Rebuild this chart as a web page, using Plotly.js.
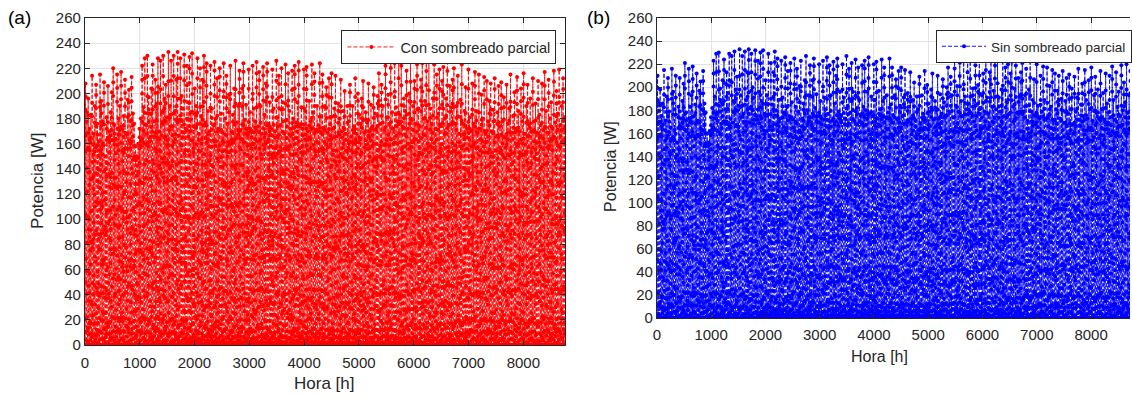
<!DOCTYPE html>
<html>
<head>
<meta charset="utf-8">
<script src="https://cdn.plot.ly/plotly-3.0.1.min.js"></script>
<style>
html,body{margin:0;padding:0;background:#fff;}
#chart{width:1132px;height:396px;}
</style>
</head>
<body>
<div id="chart"></div>
<script>
// Estimated daily peak power [W] (a) "Con sombreado parcial"
const peakConSombreado = [
208,185,196,172,183,214,168,190,207,176,162,215,194,178,209,150,181,206,170,185,
201,220,175,164,215,180,190,217,172,182,211,168,195,203,178,213,184,176,158,150,
160,172,180,222,189,228,175,230,197,184,204,223,178,211,192,228,170,226,185,230,
196,207,181,233,190,226,174,230,186,211,233,179,228,198,188,231,172,222,193,229,
185,232,174,204,190,228,168,220,182,211,230,177,224,186,170,222,188,175,225,180,
212,172,220,184,169,224,180,214,176,199,222,170,183,204,226,177,190,218,171,204,
224,179,191,172,219,185,170,222,188,178,225,174,217,190,168,221,183,208,224,176,
193,172,219,188,170,226,181,214,175,220,193,168,223,179,216,186,172,218,180,222,
177,193,225,174,189,172,219,186,221,170,194,178,223,185,216,171,190,175,224,182,
215,173,190,205,169,212,181,216,172,188,214,166,192,180,211,170,186,202,168,190,
178,207,166,190,174,212,168,200,183,176,196,210,169,185,177,208,170,191,174,205,
184,172,198,216,176,207,190,171,222,181,199,176,227,185,172,224,189,178,228,183,
222,174,196,186,218,172,200,225,179,190,210,176,223,188,174,211,224,180,194,227,
178,225,188,176,196,223,172,215,184,219,174,210,221,180,196,227,175,206,189,211,
220,176,190,214,168,195,223,176,186,205,172,219,181,170,208,176,217,186,169,215,
172,199,180,213,168,210,178,194,208,170,187,212,166,185,206,174,209,178,197,165,
207,176,188,215,169,182,201,172,213,186,170,204,178,216,168,190,207,175,196,170,
212,178,192,169,210,183,175,208,171,217,186,169,211,180,193,172,218,177,202,184,
219,175,190,212,181
];
// Estimated daily peak power [W] (b) "Sin sombreado parcial"
const peakSinSombreado = [
210,187,198,175,186,215,171,192,208,179,165,216,196,181,210,152,183,208,173,188,
203,221,178,167,216,183,193,218,175,185,212,171,197,205,181,214,186,178,160,152,
162,174,182,223,192,229,178,230,199,187,206,224,181,213,195,229,173,227,188,231,
198,209,184,233,193,227,177,231,189,213,233,182,229,200,191,232,175,223,196,230,
188,232,177,206,193,229,171,221,185,213,231,180,225,189,173,223,191,178,226,183,
214,175,221,187,172,225,183,216,179,201,223,173,186,206,227,180,193,219,174,206,
225,182,194,175,220,188,173,223,191,181,226,177,219,193,171,222,186,210,225,179,
196,175,220,191,173,227,184,216,178,221,196,171,224,182,217,189,175,219,183,223,
180,196,226,177,192,175,220,189,222,173,197,181,224,188,217,174,193,178,225,185,
217,176,193,207,172,214,184,217,175,191,215,169,195,183,213,173,189,204,171,192,
181,209,169,193,177,214,171,202,186,179,198,212,172,188,180,210,173,194,177,207,
187,175,200,217,179,209,193,174,223,184,201,179,228,188,175,225,192,181,229,186,
223,177,199,189,219,175,202,226,182,193,212,179,224,191,177,213,225,183,197,228,
181,226,191,179,198,224,175,217,187,220,177,212,222,183,199,228,178,208,192,213,
221,179,193,216,171,198,224,179,189,207,175,220,184,173,210,179,218,189,172,217,
175,201,183,215,171,212,181,197,210,173,190,214,169,188,208,177,211,181,199,168,
209,179,191,216,172,185,203,175,215,189,173,206,181,217,171,193,209,178,198,173,
214,181,195,172,212,186,178,210,174,218,189,172,213,183,196,175,219,180,204,187,
220,178,193,214,184
];
// Typical hourly profiles (fraction of daily peak, hours 0..23) by day type
const profileClear       = [0,0,0,0,0,0,0.02,0.12,0.32,0.55,0.76,0.91,1.00,0.96,0.84,0.66,0.44,0.22,0.06,0,0,0,0,0];
const profileSummer      = [0,0,0,0,0,0.01,0.06,0.20,0.40,0.60,0.78,0.92,1.00,0.97,0.88,0.72,0.52,0.32,0.14,0.03,0,0,0,0];
const profileMorningCloud= [0,0,0,0,0,0,0.01,0.07,0.18,0.30,0.52,0.80,1.00,0.93,0.86,0.70,0.47,0.24,0.07,0,0,0,0,0];
const profileAfterCloud  = [0,0,0,0,0,0,0.03,0.15,0.38,0.62,0.85,1.00,0.90,0.68,0.50,0.36,0.23,0.11,0.03,0,0,0,0,0];
const profileIntermittent= [0,0,0,0,0,0,0.02,0.10,0.41,0.35,0.88,0.58,1.00,0.72,0.90,0.45,0.50,0.19,0.05,0,0,0,0,0];
const profileHazy        = [0,0,0,0,0,0,0.01,0.09,0.25,0.46,0.63,0.81,0.93,1.00,0.77,0.58,0.37,0.17,0.04,0,0,0,0,0];
const profileWinter      = [0,0,0,0,0,0,0,0.05,0.24,0.50,0.74,0.90,1.00,0.95,0.80,0.58,0.33,0.10,0,0,0,0,0,0];
const profiles = [profileClear, profileSummer, profileMorningCloud, profileAfterCloud, profileIntermittent, profileHazy, profileWinter];
// Estimated day type (index into profiles) for each day of the year
const dayType = [
6,0,2,6,4,3,6,5,0,6,2,4,6,3,0,5,6,2,6,4,
3,6,0,5,6,2,4,6,3,0,6,5,2,6,4,0,6,3,5,6,
2,0,4,6,3,5,0,2,6,4,3,0,5,6,2,4,0,3,6,5,
0,2,4,3,6,5,0,2,4,3,0,5,2,6,4,0,3,5,2,0,
1,2,4,3,0,5,1,2,4,3,0,5,1,4,2,3,0,5,1,4,
2,3,1,5,0,4,2,1,3,5,4,0,1,2,3,5,4,1,0,2,
1,3,4,1,5,2,1,4,3,1,0,5,1,2,4,1,3,5,1,2,
4,1,3,5,1,2,0,1,4,3,1,5,2,1,4,3,1,5,0,1,
2,4,1,3,5,1,2,4,1,0,3,1,5,2,1,4,3,1,5,2,
1,4,3,1,2,5,1,0,4,1,3,2,1,5,4,1,2,3,1,5,
4,1,2,3,1,5,0,1,4,2,1,3,5,1,4,2,1,3,0,1,
5,2,1,4,3,1,5,2,1,4,0,3,1,5,2,4,1,3,5,1,
2,4,1,3,0,5,1,2,4,3,1,5,0,2,4,1,3,5,2,0,
4,3,0,5,2,4,3,0,5,2,4,0,3,5,2,0,4,3,5,0,
2,4,6,3,0,5,2,6,4,3,0,5,6,2,4,3,6,0,5,2,
6,4,3,6,0,5,2,6,4,3,6,0,5,6,2,4,6,3,0,6,
5,2,6,4,3,6,0,5,6,2,4,6,3,0,6,5,2,6,4,3,
6,0,5,6,2,4,6,3,0,6,5,2,6,4,3,6,0,5,6,2,
4,6,3,0,6
];
const xTicks = [0,1000,2000,3000,4000,5000,6000,7000,8000];
const yTicks = [0,20,40,60,80,100,120,140,160,180,200,220,240,260];
const nameA = "Con sombreado parcial";
const nameB = "Sin sombreado parcial";

function hourly(peaks){
  const x=[], y=[];
  for(let d=0; d<peaks.length; d++){
    const prof = profiles[dayType[d]];
    for(let h=0; h<24; h++){
      x.push(d*24+h+1);
      y.push(peaks[d]*prof[h]);
    }
  }
  return {x,y};
}
const A = hourly(peakConSombreado);
const B = hourly(peakSinSombreado);

const W = 1132, H = 396;
const px = v => v / W;
const py = v => 1 - v / H;
const FONT = "Liberation Sans, Arial, sans-serif";
const INK = "#262626";

const traces = [
  {x:A.x, y:A.y, type:"scatter", mode:"lines+markers", name:nameA,
   line:{color:"#ff0000", width:0.9, dash:"4px,2px"}, marker:{color:"#ff0000", size:4},
   xaxis:"x", yaxis:"y", legend:"legend"},
  {x:B.x, y:B.y, type:"scatter", mode:"lines+markers", name:nameB,
   line:{color:"#0000ff", width:0.9, dash:"4px,2px"}, marker:{color:"#0000ff", size:4},
   xaxis:"x2", yaxis:"y2", legend:"legend2"}
];

const axCommon = {
  showline:true, linecolor:INK, linewidth:1, ticks:"inside", ticklen:5, tickcolor:INK,
  showgrid:true, gridcolor:"#e3e3e3", gridwidth:1, zeroline:false,
  tickfont:{family:FONT, size:15, color:INK}, fixedrange:true
};

const layout = {
  width:W, height:H,
  margin:{l:0,r:0,t:0,b:0},
  paper_bgcolor:"#ffffff", plot_bgcolor:"#ffffff",
  showlegend:true,
  xaxis: Object.assign({}, axCommon, {domain:[px(85), px(566)], range:[0,8760], tickvals:xTicks, anchor:"y", mirror:"ticks", ticklabelstandoff:4}),
  yaxis: Object.assign({}, axCommon, {domain:[py(345), py(18)], range:[0,260], tickvals:yTicks, anchor:"x", mirror:"ticks"}),
  xaxis2: Object.assign({}, axCommon, {domain:[px(658), 1], range:[0,8717], tickvals:xTicks, anchor:"y2", mirror:"ticks", ticklabelstandoff:3}),
  yaxis2: Object.assign({}, axCommon, {domain:[py(318), py(18)], range:[0,260], tickvals:yTicks, anchor:"x2", mirror:false}),
  legend:{x:px(342), y:py(30), xanchor:"left", yanchor:"top", bgcolor:"#ffffff", bordercolor:INK, borderwidth:1,
          font:{family:FONT, size:14.5, color:INK}, tracegroupgap:0, itemwidth:48},
  legend2:{x:px(938), y:py(30), xanchor:"left", yanchor:"top", bgcolor:"#ffffff", bordercolor:INK, borderwidth:1,
          font:{family:FONT, size:13.5, color:INK}, tracegroupgap:0, itemwidth:44},
  annotations:[
    {text:"(a)", xref:"paper", yref:"paper", x:px(20), y:py(18), xanchor:"center", yanchor:"middle", showarrow:false, font:{family:FONT, size:19, color:"#000"}},
    {text:"(b)", xref:"paper", yref:"paper", x:px(600), y:py(18), xanchor:"center", yanchor:"middle", showarrow:false, font:{family:FONT, size:19, color:"#000"}},
    {text:"Hora [h]", xref:"paper", yref:"paper", x:px(325), y:py(383), xanchor:"center", yanchor:"middle", showarrow:false, font:{family:FONT, size:17, color:INK}},
    {text:"Hora [h]", xref:"paper", yref:"paper", x:px(881), y:py(356), xanchor:"center", yanchor:"middle", showarrow:false, font:{family:FONT, size:16, color:INK}},
    {text:"Potencia [W]", xref:"paper", yref:"paper", x:px(37), y:py(181), xanchor:"center", yanchor:"middle", textangle:-90, showarrow:false, font:{family:FONT, size:17, color:INK}},
    {text:"Potencia [W]", xref:"paper", yref:"paper", x:px(612), y:py(166), xanchor:"center", yanchor:"middle", textangle:-90, showarrow:false, font:{family:FONT, size:16, color:INK}}
  ]
};

Plotly.newPlot("chart", traces, layout, {staticPlot:true, displayModeBar:false});
</script>
</body>
</html>
